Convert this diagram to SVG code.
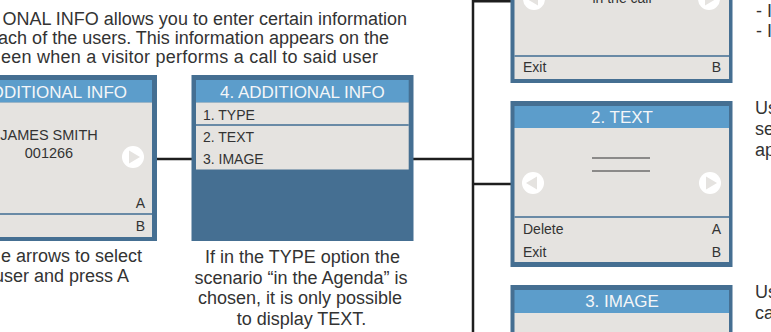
<svg xmlns="http://www.w3.org/2000/svg" width="771" height="332" viewBox="0 0 771 332">
<defs>
<style>
.frame{fill:#456f92}
.head{fill:#5c9dcb}
.body{fill:#e5e3e0}
.sep{stroke:#3f6d93;stroke-width:1.6}
.ht{font-family:"Liberation Sans",Arial,sans-serif;font-size:17px;fill:#f4f6f8;text-anchor:middle}
.t14{font-family:"Liberation Sans",Arial,sans-serif;font-size:14px;fill:#333}
.cap{font-family:"Liberation Sans",Arial,sans-serif;font-size:18px;fill:#333}
.end{text-anchor:end}
.mid{text-anchor:middle}
.circ{fill:#ffffff}
.tri{fill:#e5e3e0}
.conn{stroke:#1e1e1e;stroke-width:2.5;fill:none}
</style>
<g id="arrowR"><circle class="circ" cx="0" cy="0" r="11"/><polygon class="tri" points="-4,-6.5 -4,6.5 7,0"/></g>
<g id="arrowL"><circle class="circ" cx="0" cy="0" r="11"/><polygon class="tri" points="4,-6.5 4,6.5 -7,0"/></g>
</defs>
<rect width="771" height="332" fill="#ffffff"/>

<g id="intro">
<text class="cap end" x="407" y="25">ONAL INFO allows you to enter certain information</text>
<text class="cap end" x="389" y="44">ach of the users. This information appears on the</text>
<text class="cap" x="1" y="63" textLength="377" lengthAdjust="spacing">een when a visitor performs a call to said user</text>
</g>

<g id="connectors">
<path class="conn" d="M157,159 H192"/>
<path class="conn" d="M413,159 H473"/>
<path class="conn" d="M473,0 V332"/>
<path class="conn" d="M473,1.2 H511"/>
<path class="conn" d="M473,184 H511"/>
</g>

<g id="user-screen">
<rect class="frame" x="-80" y="75" width="237" height="166"/>
<rect class="head" x="-80" y="80" width="232" height="22.5"/>
<rect class="body" x="-80" y="102.5" width="232" height="134.5"/>
<line class="sep" x1="-80" y1="214" x2="152" y2="214"/>
<text class="ht" x="127" y="98" style="text-anchor:end">ADDITIONAL INFO</text>
<text class="t14 mid" x="49" y="140" style="font-size:14.5px">JAMES SMITH</text>
<text class="t14 mid" x="49" y="158" style="font-size:14.5px">001266</text>
<use href="#arrowR" x="133" y="157"/>
<text class="t14 end" x="145" y="208">A</text>
<text class="t14 end" x="145" y="231">B</text>
</g>
<g id="user-caption">
<text class="cap end" x="142" y="262">e arrows to select</text>
<text class="cap end" x="129" y="282">user and press A</text>
</g>

<g id="menu-screen">
<rect class="frame" x="191.5" y="75" width="222" height="166"/>
<rect class="head" x="196" y="80" width="212.7" height="22.5"/>
<rect class="body" x="196" y="102.5" width="212.7" height="67"/>
<line class="sep" x1="196" y1="125" x2="408.7" y2="125"/>
<text class="ht" x="302.3" y="98">4. ADDITIONAL INFO</text>
<text class="t14" x="203" y="119.5">1. TYPE</text>
<text class="t14" x="203" y="141.5">2. TEXT</text>
<text class="t14" x="203" y="163.5">3. IMAGE</text>
</g>
<g id="menu-caption">
<text class="cap mid" x="302.5" y="263">If in the TYPE option the</text>
<text class="cap mid" x="301" y="284">scenario “in the Agenda” is</text>
<text class="cap mid" x="300" y="304">chosen, it is only possible</text>
<text class="cap mid" x="301.5" y="325">to display TEXT.</text>
</g>

<g id="type-screen">
<rect class="frame" x="510.5" y="-90" width="222" height="173"/>
<rect class="body" x="514.5" y="-85" width="214.5" height="164"/>
<line class="sep" x1="514.5" y1="56" x2="729" y2="56"/>
<text class="t14 mid" x="622" y="3">in the call</text>
<use href="#arrowL" x="534" y="-1"/>
<use href="#arrowR" x="709" y="-1"/>
<text class="t14" x="523" y="72">Exit</text>
<text class="t14 end" x="721" y="72">B</text>
</g>
<g id="type-notes">
<text class="cap" x="756" y="17">- I</text>
<text class="cap" x="756" y="37">- I</text>
</g>

<g id="text-screen">
<rect class="frame" x="510.5" y="101" width="222" height="166"/>
<rect class="head" x="514.5" y="106" width="214.5" height="22"/>
<rect class="body" x="514.5" y="128" width="214.5" height="134"/>
<text class="ht" x="622" y="123">2. TEXT</text>
<line x1="592" y1="158" x2="650" y2="158" stroke="#333" stroke-width="1.2"/>
<line x1="592" y1="171" x2="650" y2="171" stroke="#333" stroke-width="1.2"/>
<use href="#arrowL" x="533" y="183"/>
<use href="#arrowR" x="710" y="183"/>
<line class="sep" x1="514.5" y1="217" x2="729" y2="217"/>
<text class="t14" x="523" y="234">Delete</text>
<text class="t14 end" x="721" y="234">A</text>
<text class="t14" x="523" y="257">Exit</text>
<text class="t14 end" x="721" y="257">B</text>
</g>
<g id="text-notes">
<text class="cap" x="755" y="114">Us</text>
<text class="cap" x="755" y="135">se</text>
<text class="cap" x="755" y="156">ap</text>
</g>

<g id="image-screen">
<rect class="frame" x="510.5" y="285" width="222" height="120"/>
<rect class="head" x="514.5" y="290" width="214.5" height="23"/>
<rect class="body" x="514.5" y="313" width="214.5" height="90"/>
<text class="ht" x="622" y="307">3. IMAGE</text>
</g>
<g id="image-notes">
<text class="cap" x="755" y="298">Us</text>
<text class="cap" x="755" y="319">ca</text>
</g>
</svg>
